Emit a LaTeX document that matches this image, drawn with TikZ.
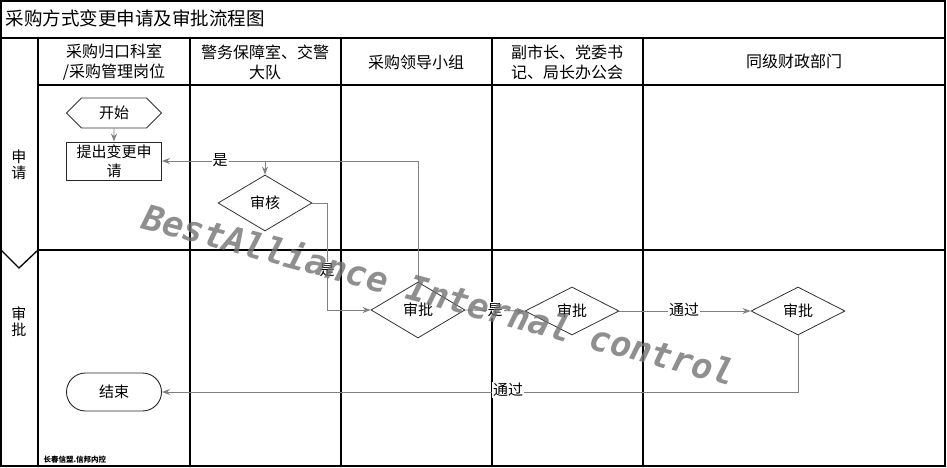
\documentclass[tikz,border=0pt]{standalone}
\usepackage{fontspec}
\setmainfont{Noto Sans CJK SC}
\newfontfamily\wmfont{DejaVu Sans Mono}
\usetikzlibrary{shapes.geometric,shapes.symbols,arrows.meta}

\begin{document}
\begin{tikzpicture}[x=1pt, y=-1pt, font=\fontsize{15}{19}\selectfont]
    \useasboundingbox (0,0) rectangle (947,468);
    % Define styles
    \tikzstyle{grid} = [line width=1.3pt, black]
    \tikzstyle{head} = [align=center, font=\fontsize{16}{20}\selectfont]
    \tikzstyle{lane} = [align=center, font=\fontsize{15}{16}\selectfont]
    \tikzstyle{hexa} = [signal, signal to=west and east, minimum width=95pt, minimum height=30pt, inner sep=0pt, draw=black!80, line width=0.8pt]
    \tikzstyle{process} = [rectangle, minimum width=95pt, minimum height=38pt, inner sep=0pt, align=center, draw=black!85, line width=0.9pt, font=\fontsize{15}{19}\selectfont]
    \tikzstyle{decision} = [diamond, aspect=1.7, minimum width=94pt, minimum height=56pt, inner sep=0pt, draw=black!80, line width=0.8pt]
    \tikzstyle{terminal} = [rectangle, rounded corners=19pt, minimum width=95pt, minimum height=38pt, draw=black!85, line width=0.9pt]
    \tikzstyle{arrow} = [line width=0.9pt, black!50, ->, >={Stealth[length=8pt,width=6pt]}]
    \tikzstyle{lbl} = [fill=white, inner sep=1pt, text=black]

    % Frame and lanes
    \draw[grid] (1,1) rectangle (945,466);
    \draw[line width=2pt] (1,38) -- (945,38);
    \draw[grid] (38,85) -- (945,85);
    \draw[grid] (38,250) -- (945,250);
    \draw[grid] (1,250) -- (19,268) -- (38,250);
    \foreach \x in {38,190,341,492,643}
        \draw[grid] (\x,38) -- (\x,466);

    % Titles
    \node[anchor=west, font=\fontsize{18.5}{20}\selectfont] (title) at (2,18) {采购方式变更申请及审批流程图};
    \node[head] (h1) at (114,62) {采购归口科室\\/采购管理岗位};
    \node[head] (h2) at (265,62) {警务保障室、交警\\大队};
    \node[head] (h3) at (416,62) {采购领导小组};
    \node[head] (h4) at (567,62) {副市长、党委书\\记、局长办公会};
    \node[head] (h5) at (794,61) {同级财政部门};
    \node[lane] (l1) at (19,165) {申\\请};
    \node[lane] (l2) at (19,322) {审\\批};

    % Nodes
    \node[hexa] (start) at (114,113) {开始};
    \node[process] (req) at (114,161) {提出变更申\\请};
    \node[decision] (chk) at (265,203) {审核};
    \node[decision] (apv1) at (418,310) {审批};
    \node[decision, minimum height=48pt] (apv2) at (572,311) {审批};
    \node[decision, minimum height=48pt] (apv3) at (798,311) {审批};
    \node[terminal] (end) at (114,392) {结束};
    \coordinate (j1) at (265,161);
    \coordinate (k1) at (327,203);

    % Arrows
    \draw[arrow] (start) -- (req);
    \draw[arrow] (apv1.north) |- (req.east);
    \draw[arrow] (j1) -- (chk.north);
    \draw[arrow] (chk.east) -- (k1) |- (apv1.west);
    \draw[arrow] (apv1.east) -- (apv2.west);
    \draw[arrow] (apv2.east) -- (apv3.west);
    \draw[arrow] (apv3.south) |- (end.east);

    % Labels
    \node[lbl] (y1) at (220,160) {是};
    \node[lbl] (y2) at (327,270) {是};
    \node[lbl] (y3) at (495,310) {是};
    \node[lbl] (p1) at (684,310) {通过};
    \node[lbl] (p2) at (508,390) {通过};
    \node[anchor=west, font=\fontsize{7.5}{8}\bfseries] (foot) at (40,460) {长春信盟.信邦内控};

    % Watermark
    \node[anchor=base west, rotate=-15, inner sep=0pt, text=black!55, opacity=0.8,
          font=\wmfont\bfseries\itshape\fontsize{35}{36}\selectfont] (wm) at (140,228) {BestAlliance Internal control};
\end{tikzpicture}
\end{document}
